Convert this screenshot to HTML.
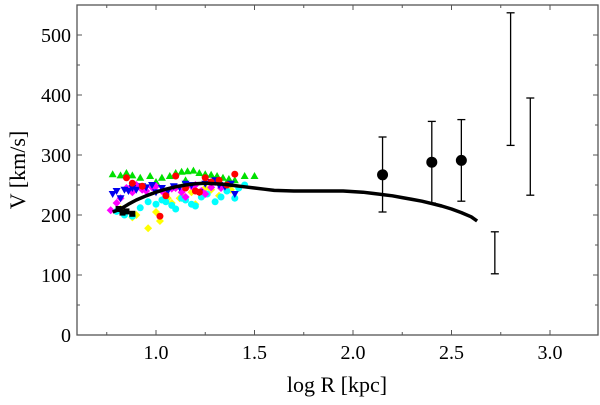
<!DOCTYPE html>
<html><head><meta charset="utf-8"><style>
body{margin:0;background:#fff}
svg{display:block;font-family:"Liberation Serif",serif}
</style></head><body>
<svg id="c" width="600" height="405"></svg>
<script>
const xTicks=[1.0,1.5,2.0,2.5,3.0];
const yTicks=[0,100,200,300,400,500];
const curveX=[0.78,0.82,0.86,0.9,0.95,1.0,1.05,1.1,1.15,1.2,1.25,1.3,1.35,1.4,1.45,1.5,1.55,1.6,1.7,1.8,1.9,1.95,2.0,2.05,2.1,2.15,2.2,2.25,2.3,2.35,2.4,2.45,2.5,2.55,2.6,2.63];
const curveV=[205,210,218,225,232,238,243,247,250,252,253,252,251,249,247,245,243,241,240,240,240,240,239,238,236,234,232,229,226,223,219,215,210,204,197,190];
const ptsX=[2.15,2.40,2.55];
const ptsV=[267,288,291];
const ptsLo=[205,220,223];
const ptsHi=[330,356,359];
const barX=[2.72,2.80,2.90];
const barLo=[102,316,233];
const barHi=[172,537,395];
const greenX=[0.78,0.82,0.85,0.88,0.92,0.97,1.03,1.07,1.1,1.13,1.16,1.19,1.22,1.25,1.28,1.31,1.34,1.37,1.4,1.45,1.5,1.0,1.15];
const greenV=[268,266,270,266,262,265,262,265,270,272,273,274,270,268,267,265,262,260,258,265,265,255,258];
const redX=[0.85,0.88,0.93,1.02,1.1,1.15,1.2,1.25,1.28,1.32,1.36,1.4,1.05,1.22];
const redV=[262,253,248,198,265,245,240,262,255,258,250,268,232,238];
const magentaX=[0.77,0.8,0.82,0.85,0.88,0.9,0.93,0.95,0.98,1.0,1.03,1.05,1.08,1.1,1.13,1.15,1.18,1.2,1.23,1.25,1.28,1.3,1.33];
const magentaV=[208,220,228,245,238,250,242,240,246,248,240,235,244,245,238,230,248,250,240,235,246,255,245];
const blueX=[0.78,0.8,0.82,0.84,0.86,0.88,0.9,0.93,0.95,0.98,1.0,1.03,1.06,1.09,1.12,1.15,1.18,1.22,1.25,1.28,1.3,1.32,1.35,1.38,1.4];
const blueV=[235,240,228,242,240,245,242,248,246,250,238,245,240,248,246,252,250,238,252,255,258,250,247,252,235];
const cyanX=[0.8,0.84,0.88,0.92,0.96,1.0,1.03,1.05,1.08,1.1,1.13,1.15,1.18,1.2,1.23,1.26,1.3,1.33,1.36,1.4,1.42,1.45];
const cyanV=[206,200,198,212,222,218,225,222,216,210,228,225,218,215,230,235,222,230,240,228,245,250];
const yellowX=[0.84,0.88,0.9,0.96,1.0,1.02,1.06,1.08,1.12,1.14,1.18,1.2,1.25,1.28,1.32,1.38,0.82];
const yellowV=[202,196,200,178,205,190,228,220,228,230,238,218,245,242,232,242,210];
const blackX=[0.81,0.83,0.85,0.88];
const blackV=[210,204,206,202];
const X0=156,XS=197,Y0=335,YS=0.6;
const sx=x=>X0+(x-1)*XS, sy=v=>Y0-v*YS;
const svg=document.getElementById('c');const NS='http://www.w3.org/2000/svg';
function mk(t,a,p){const e=document.createElementNS(NS,t);for(const k in a)e.setAttribute(k,a[k]);(p||svg).appendChild(e);return e;}
let fr=mk('rect',{x:77,y:5,width:521,height:330,fill:'none',stroke:'#555','stroke-width':1.3});


for(let i=0;i<xTicks.length;i++){const t=xTicks[i],x=sx(t);
 mk('line',{x1:x,y1:335,x2:x,y2:330,stroke:'#555'});mk('line',{x1:x,y1:5,x2:x,y2:10,stroke:'#555'});
 const mx=sx(t-0.25);if(mx>77){mk('line',{x1:mx,y1:335,x2:mx,y2:332,stroke:'#555'});mk('line',{x1:mx,y1:5,x2:mx,y2:8,stroke:'#555'});}
 const lb=mk('text',{x:x,y:359,'text-anchor':'middle','font-size':20});lb.textContent=t.toFixed(1);
 
 }
for(let i=0;i<yTicks.length;i++){const t=yTicks[i],y=sy(t);
 mk('line',{x1:77,y1:y,x2:82,y2:y,stroke:'#555'});mk('line',{x1:598,y1:y,x2:593,y2:y,stroke:'#555'});
 const my=sy(t+50);mk('line',{x1:77,y1:my,x2:80,y2:my,stroke:'#555'});mk('line',{x1:598,y1:my,x2:595,y2:my,stroke:'#555'});
 const lb=mk('text',{x:71,y:y+7,'text-anchor':'end','font-size':20});lb.textContent=t;
 
 }
let xt=mk('text',{x:337,y:392,'text-anchor':'middle','font-size':22});xt.textContent='log R [kpc]';


let yt=mk('text',{x:0,y:0,'text-anchor':'middle','font-size':22,transform:'translate(25,170) rotate(-90)'});yt.textContent='V [km/s]';


function scatter(xs,vs,col,shape,name){for(let i=0;i<xs.length;i++){const x=sx(xs[i]),y=sy(vs[i]);let e;
 if(shape==='up')e=mk('polygon',{points:`${x},${y-4} ${x-4},${y+3} ${x+4},${y+3}`,fill:col});
 else if(shape==='down')e=mk('polygon',{points:`${x},${y+4} ${x-4},${y-3} ${x+4},${y-3}`,fill:col});
 else if(shape==='sq')e=mk('rect',{x:x-3,y:y-3,width:6,height:6,fill:col});
 else if(shape==='diam')e=mk('polygon',{points:`${x},${y-4} ${x+4},${y} ${x},${y+4} ${x-4},${y}`,fill:col});
 else e=mk('circle',{cx:x,cy:y,r:3.5,fill:col});
 
 }}
scatter(greenX,greenV,'#00e000','up','green-point');
scatter(yellowX,yellowV,'#ffff00','diam','yellow-point');
scatter(cyanX,cyanV,'#00ffff','circ','cyan-point');
scatter(magentaX,magentaV,'#ff00ff','diam','magenta-point');
scatter(blueX,blueV,'#0000ee','down','blue-point');
scatter(redX,redV,'#ff0000','circ','red-point');
scatter(blackX,blackV,'#000','sq','black-point');
let d='';for(let i=0;i<curveX.length;i++)d+=(i?'L':'M')+sx(curveX[i])+','+sy(curveV[i]);
let cv=mk('path',{d:d,fill:'none',stroke:'#000','stroke-width':3.5,'stroke-linejoin':'round'});


function ebar(x,lo,hi,name){const X=sx(x);
 const g=mk('g',{stroke:'#000','stroke-width':1.3});
 
 
 mk('line',{x1:X,y1:sy(lo),x2:X,y2:sy(hi)},g);mk('line',{x1:X-4,y1:sy(lo),x2:X+4,y2:sy(lo)},g);mk('line',{x1:X-4,y1:sy(hi),x2:X+4,y2:sy(hi)},g);}
for(let i=0;i<ptsX.length;i++){ebar(ptsX[i],ptsLo[i],ptsHi[i],'error-bar');
 const c=mk('circle',{cx:sx(ptsX[i]),cy:sy(ptsV[i]),r:5.5,fill:'#000'});
 
 }
for(let i=0;i<barX.length;i++)ebar(barX[i],barLo[i],barHi[i],'range-bar');
</script>
</body></html>
